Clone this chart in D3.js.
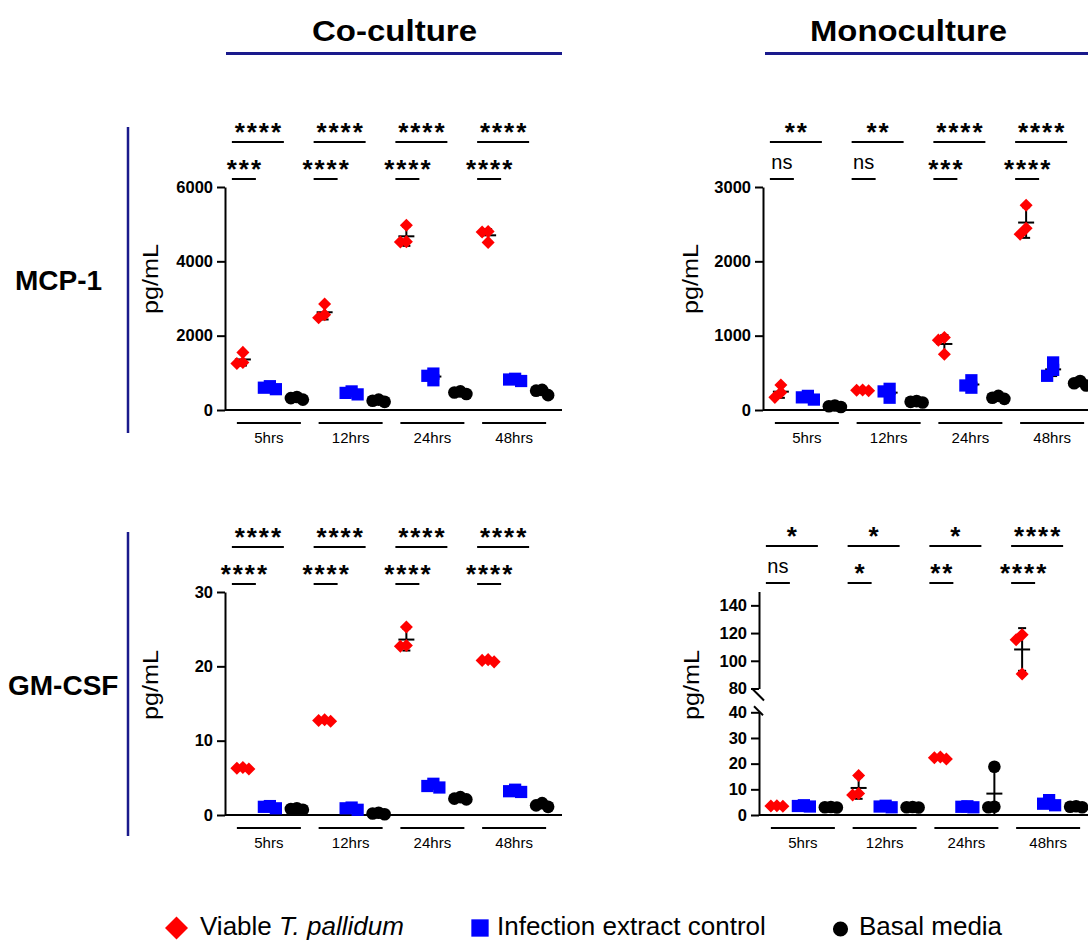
<!DOCTYPE html>
<html>
<head>
<meta charset="utf-8">
<script src="https://cdn.jsdelivr.net/npm/d3@7"></script>
<style>
body { margin: 0; background: #fff; }
svg { display: block; }
</style>
</head>
<body>
<script>
var times = ["5hrs", "12hrs", "24hrs", "48hrs"];
var seriesNames = ["Viable T. pallidum", "Infection extract control", "Basal media"];

// MCP-1, co-culture (pg/mL), three replicates per time point
var mcp1CoViable    = [[1550, 1250, 1280], [2850, 2480, 2560], [4970, 4520, 4530], [4790, 4800, 4510]];
var mcp1CoInfection = [[560, 600, 640], [420, 460, 500], [800, 920, 980], [780, 820, 840]];
var mcp1CoBasal     = [[280, 320, 350], [220, 250, 280], [430, 470, 500], [400, 520, 540]];

// MCP-1, monoculture
var mcp1MonoViable    = [[335, 235, 170], [260, 265, 270], [975, 940, 750], [2755, 2445, 2365]];
var mcp1MonoInfection = [[140, 170, 190], [285, 250, 165], [300, 330, 400], [640, 540, 460]];
var mcp1MonoBasal     = [[40, 50, 60], [100, 110, 120], [150, 165, 190], [330, 360, 390]];

// GM-CSF, co-culture
var gmcsfCoViable    = [[6.2, 6.3, 6.4], [12.6, 12.7, 12.8], [25.3, 22.7, 22.8], [20.6, 20.8, 20.9]];
var gmcsfCoInfection = [[0.9, 1.1, 1.2], [0.7, 0.9, 1.0], [3.7, 3.9, 4.2], [3.1, 3.2, 3.4]];
var gmcsfCoBasal     = [[0.7, 0.8, 0.9], [0.1, 0.2, 0.3], [2.1, 2.2, 2.4], [1.1, 1.3, 1.6]];

// GM-CSF, monoculture
var gmcsfMonoViable    = [[3.4, 3.5, 3.6], [15.4, 7.8, 8.4], [21.8, 22.3, 22.6], [118.8, 115.2, 90.5]];
var gmcsfMonoInfection = [[3.3, 3.5, 3.8], [3.0, 3.3, 3.6], [3.0, 3.2, 3.4], [3.8, 4.4, 5.8]];
var gmcsfMonoBasal     = [[2.9, 3.0, 3.1], [2.9, 3.0, 3.1], [18.8, 3.0, 3.2], [3.0, 3.2, 3.4]];

// significance: viable vs basal (upper bar), viable vs infection control (lower bar)
var mcp1CoSigVB   = ["****", "****", "****", "****"];
var mcp1CoSigVI   = ["***", "****", "****", "****"];
var mcp1MonoSigVB = ["**", "**", "****", "****"];
var mcp1MonoSigVI = ["ns", "ns", "***", "****"];
var gmcsfCoSigVB  = ["****", "****", "****", "****"];
var gmcsfCoSigVI  = ["****", "****", "****", "****"];
var gmcsfMonoSigVB = ["*", "*", "*", "****"];
var gmcsfMonoSigVI = ["ns", "*", "**", "****"];

var mcp1CoTicks = [0, 2000, 4000, 6000];
var mcp1MonoTicks = [0, 1000, 2000, 3000];
var gmcsfCoTicks = [0, 10, 20, 30];
var gmcsfMonoTicksLow = [0, 10, 20, 30, 40];
var gmcsfMonoTicksHigh = [80, 100, 120, 140];

var font = "'Liberation Sans', Arial, Helvetica, sans-serif";
var colors = ["#ff0000", "#0000ff", "#000000"];
var navy = "#1a1a8c";

var svg = d3.select("body").append("svg")
	.attr("width", 1088)
	.attr("height", 940)
	.style("font-family", font);

// column headers
function header(text, cx, len, x1, x2) {
	svg.append("text")
		.attr("x", cx).attr("y", 41)
		.attr("text-anchor", "middle")
		.attr("font-size", 29).attr("font-weight", "bold")
		.attr("textLength", len).attr("lengthAdjust", "spacingAndGlyphs")
		.text(text);
	svg.append("line")
		.attr("x1", x1).attr("x2", x2).attr("y1", 53.5).attr("y2", 53.5)
		.attr("stroke", navy).attr("stroke-width", 3);
}
header("Co-culture", 394.5, 165, 226, 562);
header("Monoculture", 908.5, 197, 765, 1090);

// row labels + blue vertical rules
svg.append("text").attr("x", 15).attr("y", 290)
	.attr("font-size", 28).attr("font-weight", "bold").text("MCP-1");
svg.append("text").attr("x", 8).attr("y", 695)
	.attr("font-size", 28).attr("font-weight", "bold").text("GM-CSF");
[[127, 433], [532, 836]].forEach(function(r) {
	svg.append("line").attr("x1", 128).attr("x2", 128).attr("y1", r[0]).attr("y2", r[1])
		.attr("stroke", navy).attr("stroke-width", 2.5);
});

var panels = [
	{ax: 225, y0: 410, yTop: 187, domain: [0, 6000], ticks: mcp1CoTicks, xEnd: 562,
	 data: [mcp1CoViable, mcp1CoInfection, mcp1CoBasal], sigVB: mcp1CoSigVB, sigVI: mcp1CoSigVI,
	 labelX: 152, labelY: 279},
	{ax: 763, y0: 410, yTop: 187, domain: [0, 3000], ticks: mcp1MonoTicks, xEnd: 1090,
	 data: [mcp1MonoViable, mcp1MonoInfection, mcp1MonoBasal], sigVB: mcp1MonoSigVB, sigVI: mcp1MonoSigVI,
	 labelX: 692.5, labelY: 279},
	{ax: 225, y0: 815, yTop: 592, domain: [0, 30], ticks: gmcsfCoTicks, xEnd: 562,
	 data: [gmcsfCoViable, gmcsfCoInfection, gmcsfCoBasal], sigVB: gmcsfCoSigVB, sigVI: gmcsfCoSigVI,
	 labelX: 152.5, labelY: 685},
	{ax: 759, y0: 815, yTop: 591, broken: true, xEnd: 1090,
	 data: [gmcsfMonoViable, gmcsfMonoInfection, gmcsfMonoBasal], sigVB: gmcsfMonoSigVB, sigVI: gmcsfMonoSigVI,
	 labelX: 693, labelY: 685}
];

function styleAxis(ax) {
	ax.attr("font-family", font).attr("font-size", 16.5).attr("font-weight", "bold");
	ax.selectAll("path, line").attr("stroke", "#000").attr("stroke-width", 2);
	ax.selectAll("text").attr("fill", "#000");
}

// simple beeswarm so overlapping replicates spread sideways
function swarm(vals, yf) {
	var pts = vals.map(function(v) { return {v: v, y: yf(v), dx: 0}; });
	var placed = [];
	var step = 6;
	pts.slice().sort(function(a, b) { return a.y - b.y; }).forEach(function(p) {
		var offs = [0, -step, step, -2 * step, 2 * step, -3 * step, 3 * step];
		for (var i = 0; i < offs.length; i++) {
			var ok = placed.every(function(q) { return Math.hypot(q.dx - offs[i], q.y - p.y) >= step; });
			if (ok) { p.dx = offs[i]; break; }
		}
		placed.push(p);
	});
	return pts;
}

function drawPanel(p) {
	var g = svg.append("g");
	var x = d3.scaleBand().domain(times).range([p.ax + 4, p.ax + 331]);
	var inner = d3.scalePoint().domain(seriesNames).range([-27, 27]);
	var fmt = d3.format("d");
	var yf;

	if (p.broken) {
		var yLow = d3.scaleLinear().domain([0, 40]).range([p.y0, 712.3]);
		var yHigh = d3.scaleLinear().domain([80, 150]).range([688.5, 591.5]);
		yf = function(v) { return v > 60 ? yHigh(v) : yLow(Math.max(0, v)); };
		var a1 = g.append("g").attr("transform", "translate(" + p.ax + ",0)")
			.call(d3.axisLeft(yLow).tickValues(gmcsfMonoTicksLow).tickFormat(fmt).tickSize(8).tickPadding(4).tickSizeOuter(0));
		var a2 = g.append("g").attr("transform", "translate(" + p.ax + ",0)")
			.call(d3.axisLeft(yHigh).tickValues(gmcsfMonoTicksHigh).tickFormat(fmt).tickSize(8).tickPadding(4).tickSizeOuter(0));
		styleAxis(a1); styleAxis(a2);
		// axis break marks
		var b80 = yHigh(80), b40 = yLow(40);
		g.append("line").attr("x1", p.ax - 7).attr("y1", b80).attr("x2", p.ax + 5).attr("y2", b80 + 12)
			.attr("stroke", "#000").attr("stroke-width", 2);
		g.append("line").attr("x1", p.ax - 5).attr("y1", b40 - 6).attr("x2", p.ax + 4).attr("y2", b40 + 3)
			.attr("stroke", "#000").attr("stroke-width", 2);
	} else {
		var y = d3.scaleLinear().domain(p.domain).range([p.y0, p.yTop]);
		yf = function(v) { return y(Math.max(p.domain[0], Math.min(p.domain[1], v))); };
		var a = g.append("g").attr("transform", "translate(" + p.ax + ",0)")
			.call(d3.axisLeft(y).tickValues(p.ticks).tickFormat(fmt).tickSize(8).tickPadding(4).tickSizeOuter(0));
		styleAxis(a);
	}

	// x axis line
	g.append("line").attr("x1", p.ax).attr("x2", p.xEnd).attr("y1", p.y0).attr("y2", p.y0)
		.attr("stroke", "#000").attr("stroke-width", 2);

	// y label
	var fs = 22;
	g.append("text")
		.attr("transform", "translate(" + (p.labelX + fs * 0.25) + "," + p.labelY + ") rotate(-90)")
		.attr("text-anchor", "middle")
		.attr("font-size", fs)
		.attr("textLength", 70).attr("lengthAdjust", "spacingAndGlyphs")
		.text("pg/mL");

	var errG = g.append("g").attr("stroke", "#000").attr("stroke-width", 2);
	var dotG = g.append("g");

	times.forEach(function(t, ti) {
		var cx = x(t) + x.bandwidth() / 2;

		// group underline + label
		g.append("line").attr("x1", cx - 33).attr("x2", cx + 31)
			.attr("y1", p.y0 + 13).attr("y2", p.y0 + 13)
			.attr("stroke", "#000").attr("stroke-width", 2);
		g.append("text").attr("x", cx - 1).attr("y", p.y0 + 33)
			.attr("text-anchor", "middle").attr("font-size", 15).text(t);

		// replicates
		seriesNames.forEach(function(s, si) {
			var sx = cx + inner(s);
			var vals = p.data[si][ti];
			var pts = swarm(vals, yf);
			pts.forEach(function(pt) {
				var sym, rot = "";
				if (si === 0) { sym = d3.symbol(d3.symbolSquare, 85); rot = " rotate(45)"; }
				else if (si === 1) { sym = d3.symbol(d3.symbolSquare, 150); }
				else { sym = d3.symbol(d3.symbolCircle, 125); }
				dotG.append("path")
					.attr("d", sym())
					.attr("transform", "translate(" + (sx + pt.dx) + "," + pt.y + ")" + rot)
					.attr("fill", colors[si]);
			});

			// mean +/- SD (drawn behind the points)
			var m = d3.mean(vals), sd = d3.deviation(vals);
			var yT = yf(m + sd), yB = yf(m - sd), yM = yf(m);
			errG.append("line").attr("x1", sx).attr("x2", sx).attr("y1", yT).attr("y2", yB);
			errG.append("line").attr("x1", sx - 4).attr("x2", sx + 4).attr("y1", yT).attr("y2", yT);
			errG.append("line").attr("x1", sx - 4).attr("x2", sx + 4).attr("y1", yB).attr("y2", yB);
			errG.append("line").attr("x1", sx - 8).attr("x2", sx + 8).attr("y1", yM).attr("y2", yM);
		});

		// significance bars
		var xv = cx + inner(seriesNames[0]);
		var bars = [
			{y: p.yTop - 45, x1: xv - 11, x2: cx + inner(seriesNames[2]) - 13, lab: p.sigVB[ti]},
			{y: p.yTop - 8, x1: xv - 11, x2: cx + inner(seriesNames[1]) - 14, lab: p.sigVI[ti]}
		];
		bars.forEach(function(b) {
			g.append("line").attr("x1", b.x1).attr("x2", b.x2).attr("y1", b.y).attr("y2", b.y)
				.attr("stroke", "#000").attr("stroke-width", 2);
			var ns = b.lab === "ns";
			g.append("text")
				.attr("x", (b.x1 + b.x2) / 2 + (ns ? 0 : 1))
				.attr("y", ns ? b.y - 10 : b.y - 1)
				.attr("text-anchor", "middle")
				.attr("font-size", ns ? 20 : 26)
				.attr("font-weight", ns ? "normal" : "bold")
				.attr("letter-spacing", ns ? 0 : 2)
				.text(b.lab);
		});
	});
}

panels.forEach(drawPanel);

// legend
var lg = svg.append("g");
lg.append("path").attr("d", d3.symbol(d3.symbolSquare, 265)())
	.attr("transform", "translate(176.5,928) rotate(45)").attr("fill", colors[0]);
var t0 = lg.append("text").attr("x", 200).attr("y", 935).attr("font-size", 26);
t0.append("tspan").text("Viable ");
t0.append("tspan").attr("font-style", "italic").text("T. pallidum");
lg.append("path").attr("d", d3.symbol(d3.symbolSquare, 300)())
	.attr("transform", "translate(480,928)").attr("fill", colors[1]);
lg.append("text").attr("x", 497).attr("y", 935).attr("font-size", 26).text(seriesNames[1]);
lg.append("path").attr("d", d3.symbol(d3.symbolCircle, 180)())
	.attr("transform", "translate(840.5,929)").attr("fill", colors[2]);
lg.append("text").attr("x", 859).attr("y", 935).attr("font-size", 26).text(seriesNames[2]);
</script>
</body>
</html>
